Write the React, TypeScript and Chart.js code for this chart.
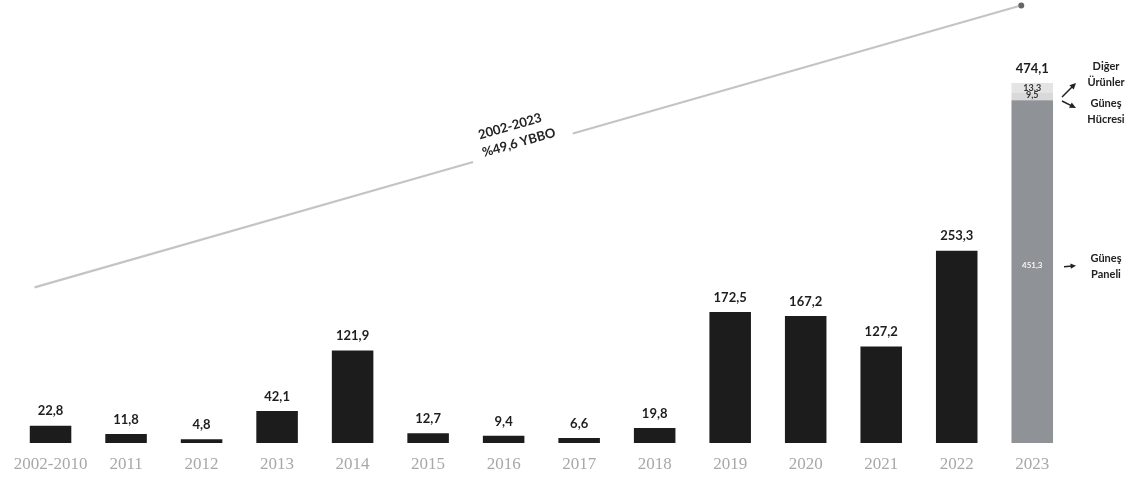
import React, { useEffect, useRef } from "react";
import { Chart, registerables } from "chart.js";

Chart.register(...registerables);

const categories = ["2002-2010", "2011", "2012", "2013", "2014", "2015", "2016", "2017", "2018", "2019", "2020", "2021", "2022", "2023"];
const exportValues = [22.8, 11.8, 4.8, 42.1, 121.9, 12.7, 9.4, 6.6, 19.8, 172.5, 167.2, 127.2, 253.3, null];
const panelValues = [null, null, null, null, null, null, null, null, null, null, null, null, null, 451.3];
const cellValues = [null, null, null, null, null, null, null, null, null, null, null, null, null, 9.5];
const otherValues = [null, null, null, null, null, null, null, null, null, null, null, null, null, 13.3];
const segmentNames = [["Güneş", "Paneli"], ["Güneş", "Hücresi"], ["Diğer", "Ürünler"]];
const cagrLabel = ["2002-2023", "%49,6 YBBO"];

const fmt = (v: number) => v.toFixed(1).replace(".", ",");

const labelFont = "bold 13px Lato";

function arrow(ctx: CanvasRenderingContext2D, x0: number, y0: number, x1: number, y1: number, color: string, width: number, head: number) {
  const a = Math.atan2(y1 - y0, x1 - x0);
  ctx.save();
  ctx.strokeStyle = color;
  ctx.fillStyle = color;
  ctx.lineWidth = width;
  ctx.beginPath();
  ctx.moveTo(x0, y0);
  ctx.lineTo(x1 - Math.cos(a) * head * 0.6, y1 - Math.sin(a) * head * 0.6);
  ctx.stroke();
  ctx.beginPath();
  ctx.moveTo(x1, y1);
  ctx.lineTo(x1 - head * Math.cos(a - 0.45), y1 - head * Math.sin(a - 0.45));
  ctx.lineTo(x1 - head * Math.cos(a + 0.45), y1 - head * Math.sin(a + 0.45));
  ctx.closePath();
  ctx.fill();
  ctx.restore();
}

const annotPlugin = {
  id: "annot",
  afterDatasetsDraw(chart: any) {
    const ctx: CanvasRenderingContext2D = chart.ctx;
    const area = chart.chartArea;
    ctx.save();
    // value labels above bars
    const meta0 = chart.getDatasetMeta(0);
    ctx.font = labelFont;
    ctx.fillStyle = "#1e1e1e";
    ctx.textAlign = "center";
    ctx.textBaseline = "bottom";
    exportValues.forEach((v, i) => {
      if (v == null) return;
      const el = meta0.data[i];
      ctx.fillText(fmt(v), el.x, el.y - 8);
    });
    // 2023 stacked bar
    const last = categories.length - 1;
    const pEl = chart.getDatasetMeta(1).data[last];
    const cEl = chart.getDatasetMeta(2).data[last];
    const oEl = chart.getDatasetMeta(3).data[last];
    const total = (panelValues[last] as number) + (cellValues[last] as number) + (otherValues[last] as number);
    ctx.fillText(fmt(total), oEl.x, oEl.y - 8);
    ctx.font = "bold 8px Lato";
    ctx.fillStyle = "#f4f4f4";
    ctx.textBaseline = "middle";
    ctx.fillText(fmt(panelValues[last] as number), pEl.x, (pEl.y + pEl.base) / 2 - 6);
    ctx.fillStyle = "#333";
    ctx.font = "bold 9px Lato";
    ctx.fillText(fmt(otherValues[last] as number), oEl.x, oEl.y + 5);
    ctx.fillText(fmt(cellValues[last] as number), cEl.x, oEl.y + 12);

    // segment names to the right
    const tx = area.right + 36;
    ctx.font = "bold 11px Lato";
    ctx.fillStyle = "#222";
    const drawName = (lines: string[], cy: number) => {
      ctx.fillText(lines[0], tx, cy - 7);
      ctx.fillText(lines[1], tx, cy + 9);
    };
    const rightEdge = oEl.x + oEl.width / 2;
    drawName(segmentNames[2], oEl.y - 10);
    arrow(ctx, rightEdge + 9, oEl.y + 14, rightEdge + 23, oEl.y, "#222", 1.5, 7);
    drawName(segmentNames[1], oEl.y + 27);
    arrow(ctx, rightEdge + 9, oEl.y + 18, rightEdge + 23, oEl.y + 25, "#222", 1.5, 7);
    const py = (pEl.y + pEl.base) / 2 - 6;
    drawName(segmentNames[0], py);
    arrow(ctx, rightEdge + 11, py + 1, rightEdge + 23, py, "#222", 1.5, 6);

    // CAGR trend arrow
    const x0 = meta0.data[0].x - 16;
    const y0 = chart.scales.y.getPixelForValue(205);
    const x1 = oEl.x - 10;
    const y1 = 5;
    const dx = x1 - x0, dy = y1 - y0;
    ctx.strokeStyle = "#c4c4c4";
    ctx.lineWidth = 2.2;
    ctx.beginPath();
    ctx.moveTo(x0, y0);
    ctx.lineTo(x0 + dx * 0.444, y0 + dy * 0.444);
    ctx.moveTo(x0 + dx * 0.545, y0 + dy * 0.545);
    ctx.lineTo(x1 - 4, y1 + 1.2);
    ctx.stroke();
    ctx.fillStyle = "#666";
    ctx.beginPath();
    ctx.arc(x1 - 1, y1 + 0.5, 3, 0, Math.PI * 2);
    ctx.fill();
    const ang = Math.atan2(dy, dx);
    const cx = x0 + dx * 0.49;
    const cy = y0 + dy * 0.49;
    ctx.translate(cx, cy);
    ctx.rotate(ang);
    ctx.font = "bold 13px Lato";
    ctx.fillStyle = "#222";
    ctx.textAlign = "center";
    ctx.textBaseline = "middle";
    ctx.fillText(cagrLabel[0], -2, -24);
    ctx.fillText(cagrLabel[1], 2, -6);
    ctx.restore();
  },
};

export default function App() {
  const ref = useRef<HTMLCanvasElement>(null);
  useEffect(() => {
    document.body.style.margin = "0";
    document.body.style.overflow = "hidden";
    const chart = new Chart(ref.current as HTMLCanvasElement, {
      type: "bar",
      data: {
        labels: categories,
        datasets: [
          { label: "İhracat", data: exportValues as any, backgroundColor: "#1c1c1c" },
          { label: "Güneş Paneli", data: panelValues as any, backgroundColor: "#8f9296" },
          { label: "Güneş Hücresi", data: cellValues as any, backgroundColor: "#d9d9d9" },
          { label: "Diğer Ürünler", data: otherValues as any, backgroundColor: "#e4e4e4" },
        ],
      },
      options: {
        animation: false,
        responsive: false,
        maintainAspectRatio: false,
        layout: { padding: { left: 6, right: 66, top: 20, bottom: 0 } },
        datasets: { bar: { barPercentage: 0.55, categoryPercentage: 1 } },
        plugins: { legend: { display: false }, tooltip: { enabled: false } },
        scales: {
          x: {
            stacked: true,
            grid: { display: false, drawTicks: false },
            border: { display: false },
            ticks: {
              padding: 13.5,
              color: "#a8a8a8",
              font: { family: "Liberation Serif", size: 17, lineHeight: 1 },
              maxRotation: 0,
              autoSkip: false,
            },
          },
          y: { stacked: true, display: false, min: 0, max: 557 },
        },
      },
      plugins: [annotPlugin],
    });
    return () => chart.destroy();
  }, []);
  return (
    <div style={{ width: 1136, height: 480, overflow: "hidden" }}>
      <canvas ref={ref} width={1136} height={487} style={{ display: "block" }} />
    </div>
  );
}
